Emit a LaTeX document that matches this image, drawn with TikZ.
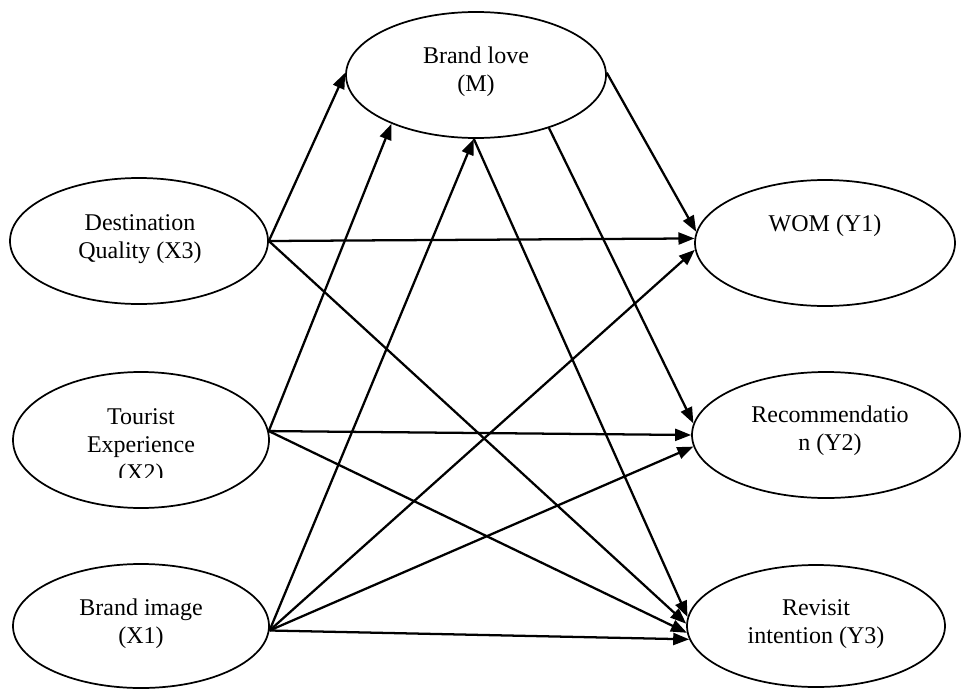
\documentclass[tikz,border=0pt]{standalone}
\usepackage{fontspec}
\setmainfont{Liberation Serif}
\usetikzlibrary{shapes.geometric,arrows.meta}
\begin{document}
\begin{tikzpicture}[x=0.75pt,y=-0.75pt,
  ell/.style={draw, ellipse, line width=1.3pt, inner sep=0pt},
  lbl/.style={align=center, font=\fontsize{18}{21}\selectfont, inner sep=0pt},
  arr/.style={-{Triangle[length=12pt,width=9pt]}, line width=1.7pt}]
\useasboundingbox (0,0) rectangle (961,689);
% ellipses
\node[ell, minimum width=195pt, minimum height=94.5pt] (bl) at (476,75) {};
\node[ell, minimum width=193.5pt, minimum height=94.5pt] (dq) at (139,241) {};
\node[ell, minimum width=192pt, minimum height=102pt] (te) at (141,440) {};
\node[ell, minimum width=192pt, minimum height=93pt] (bi) at (141,626) {};
\node[ell, minimum width=195pt, minimum height=94.5pt] (wom) at (825,243) {};
\node[ell, minimum width=201pt, minimum height=94.5pt] (rec) at (826,435) {};
\node[ell, minimum width=193.5pt, minimum height=91.5pt] (rev) at (816,626) {};
% labels
\node[lbl] (blt) at (476,72) {Brand love\\(M)};
\node[lbl] (dqt) at (140,239) {Destination\\Quality (X3)};
\begin{scope}
  \clip (20,380) rectangle (262,477);
  \node[lbl] (tet) at (141,447) {Tourist\\Experience\\(X2)};
\end{scope}
\node[lbl] (bit) at (141,624) {Brand image\\(X1)};
\node[lbl] (womt) at (825,226) {WOM (Y1)};
\node[lbl] (rect) at (830,431) {Recommendatio\\n (Y2)};
\node[lbl] (revt) at (816,624) {Revisit\\intention (Y3)};
% connectors
\draw[arr] (dq.east) -- (bl.179);
\draw[arr] (dq.east) -- (wom.178);
\draw[arr] (dq.east) -- (rev.179);
\draw[arr] (te.4) -- (bl.210);
\draw[arr] (te.4) -- (rec.180);
\draw[arr] (te.4) -- (rev.183);
\draw[arr] (bi.-2) -- (bl.268);
\draw[arr] (bi.-2) -- (wom.183);
\draw[arr] (bi.-2) -- (rec.185);
\draw[arr] (bi.-2) -- (rev.186);
\draw[arr] (bl.1) -- (wom.175);
\draw[arr] (bl.-36) -- (rec.175);
\draw[arr] (bl.268) -- (rev.176);
\end{tikzpicture}
\end{document}
